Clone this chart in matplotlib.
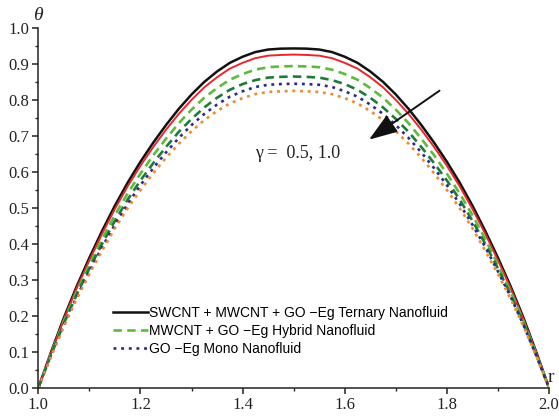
import matplotlib
matplotlib.use('Agg')
import matplotlib.pyplot as plt
from matplotlib.ticker import MultipleLocator, FormatStrFormatter

r = [1.000, 1.025, 1.050, 1.075, 1.100, 1.125, 1.150, 1.175, 1.200, 1.225,
     1.250, 1.275, 1.300, 1.325, 1.350, 1.375, 1.400, 1.425, 1.450, 1.475,
     1.500,
     1.525, 1.550, 1.575, 1.600, 1.625, 1.650, 1.675, 1.700, 1.725, 1.750,
     1.775, 1.800, 1.825, 1.850, 1.875, 1.900, 1.925, 1.950, 1.975, 2.000]

# temperature profiles, two values of gamma per fluid
theta_ternary_a = [0.000, 0.100, 0.195, 0.282, 0.362, 0.437, 0.507, 0.571, 0.629, 0.682,
                   0.731, 0.776, 0.816, 0.851, 0.880, 0.904, 0.921, 0.934, 0.941, 0.9435,
                   0.944,
                   0.9435, 0.941, 0.934, 0.921, 0.904, 0.880, 0.851, 0.816, 0.776, 0.731,
                   0.682, 0.629, 0.571, 0.507, 0.437, 0.362, 0.282, 0.195, 0.100, 0.000]
theta_ternary_b = [0.000, 0.098, 0.191, 0.277, 0.355, 0.429, 0.498, 0.561, 0.618, 0.670,
                   0.718, 0.762, 0.801, 0.836, 0.864, 0.888, 0.904, 0.917, 0.924, 0.926,
                   0.927,
                   0.926, 0.924, 0.917, 0.904, 0.888, 0.864, 0.836, 0.801, 0.762, 0.718,
                   0.670, 0.618, 0.561, 0.498, 0.429, 0.355, 0.277, 0.191, 0.098, 0.000]
theta_hybrid_a = [0.000, 0.095, 0.185, 0.267, 0.343, 0.414, 0.481, 0.541, 0.596, 0.647,
                  0.693, 0.736, 0.774, 0.807, 0.834, 0.857, 0.873, 0.885, 0.892, 0.894,
                  0.895,
                  0.894, 0.892, 0.885, 0.873, 0.857, 0.834, 0.807, 0.774, 0.736, 0.693,
                  0.647, 0.596, 0.541, 0.481, 0.414, 0.343, 0.267, 0.185, 0.095, 0.000]
theta_hybrid_b = [0.000, 0.092, 0.179, 0.259, 0.332, 0.401, 0.465, 0.524, 0.577, 0.625,
                  0.670, 0.712, 0.748, 0.780, 0.807, 0.829, 0.845, 0.856, 0.863, 0.865,
                  0.866,
                  0.865, 0.863, 0.856, 0.845, 0.829, 0.807, 0.780, 0.748, 0.712, 0.670,
                  0.625, 0.577, 0.524, 0.465, 0.401, 0.332, 0.259, 0.179, 0.092, 0.000]
theta_mono_a = [0.000, 0.090, 0.175, 0.253, 0.324, 0.392, 0.454, 0.512, 0.564, 0.611,
                0.655, 0.695, 0.731, 0.762, 0.788, 0.810, 0.825, 0.837, 0.843, 0.845,
                0.846,
                0.845, 0.843, 0.837, 0.825, 0.810, 0.788, 0.762, 0.731, 0.695, 0.655,
                0.611, 0.564, 0.512, 0.454, 0.392, 0.324, 0.253, 0.175, 0.090, 0.000]
theta_mono_b = [0.000, 0.088, 0.171, 0.247, 0.317, 0.382, 0.444, 0.500, 0.550, 0.597,
                0.640, 0.679, 0.714, 0.745, 0.770, 0.791, 0.806, 0.817, 0.823, 0.825,
                0.826,
                0.825, 0.823, 0.817, 0.806, 0.791, 0.770, 0.745, 0.714, 0.679, 0.640,
                0.597, 0.550, 0.500, 0.444, 0.382, 0.317, 0.247, 0.171, 0.088, 0.000]

labels = ['SWCNT + MWCNT + GO \u2212Eg Ternary Nanofluid',
          'MWCNT + GO \u2212Eg Hybrid Nanofluid',
          'GO \u2212Eg Mono Nanofluid']

SERIF = 'Liberation Serif'
SANS = 'Liberation Sans'

fig = plt.figure(figsize=(5.59, 4.17), dpi=100)
ax = fig.add_axes([0.0685, 0.0695, 0.9137, 0.8626])

l1, = ax.plot(r, theta_ternary_a, color='#111111', lw=1.8)
ax.plot(r, theta_ternary_b, color='#E8262B', lw=1.4)
l2, = ax.plot(r, theta_hybrid_a, color='#5DBB3C', lw=1.9, dashes=(3.2, 2.0))
ax.plot(r, theta_hybrid_b, color='#1F7A3A', lw=1.9, dashes=(3.2, 2.0))
l3, = ax.plot(r, theta_mono_a, color='#2E2A88', lw=1.9, dashes=(1.1, 1.8))
ax.plot(r, theta_mono_b, color='#EE8A30', lw=1.9, dashes=(1.1, 1.8))

ax.set_xlim(1.0, 2.0)
ax.set_ylim(0.0, 1.0)
for side in ['top', 'right']:
    ax.spines[side].set_visible(False)
for side in ['left', 'bottom']:
    ax.spines[side].set_linewidth(1.1)
    ax.spines[side].set_color('#222222')

ax.xaxis.set_major_locator(MultipleLocator(0.2))
ax.xaxis.set_minor_locator(MultipleLocator(0.1))
ax.yaxis.set_major_locator(MultipleLocator(0.1))
ax.yaxis.set_minor_locator(MultipleLocator(0.05))
ax.xaxis.set_major_formatter(FormatStrFormatter('%.1f'))
ax.yaxis.set_major_formatter(FormatStrFormatter('%.1f'))
ax.tick_params(which='major', direction='out', length=4.5, width=1.1, color='#222222', pad=2)
ax.tick_params(which='minor', direction='out', length=2.5, width=1.0, color='#222222')
for lab in ax.get_xticklabels() + ax.get_yticklabels():
    lab.set_fontfamily(SERIF)
    lab.set_fontsize(12)
    lab.set_color('#222222')

leg = ax.legend([l1, l2, l3], labels, loc='upper left', bbox_to_anchor=(0.146, 0.228),
                frameon=False, borderpad=0, borderaxespad=0, handlelength=2.5,
                handletextpad=0.1, labelspacing=0.28,
                prop={'family': SANS, 'size': 10})

ax.annotate('', xy=(1.643, 0.686), xytext=(1.790, 0.831),
            arrowprops=dict(arrowstyle='-|>,head_length=0.8,head_width=0.28',
                            mutation_scale=22, color='#111111', lw=1.4))
ax.text(1.424, 0.653, '\u03b3 =  0.5, 1.0', family=SERIF, fontsize=13,
        va='center', ha='left', color='#222222')

fig.text(38 / 559, 1 - 16 / 417, '\u03b8', family=SERIF, style='italic', fontsize=14,
         ha='center', va='center', color='#222222')
fig.text(548 / 559, 1 - 378 / 417, 'r', family=SERIF, fontsize=14,
         ha='left', va='center', color='#222222')

fig.savefig('out.png', dpi=100)
